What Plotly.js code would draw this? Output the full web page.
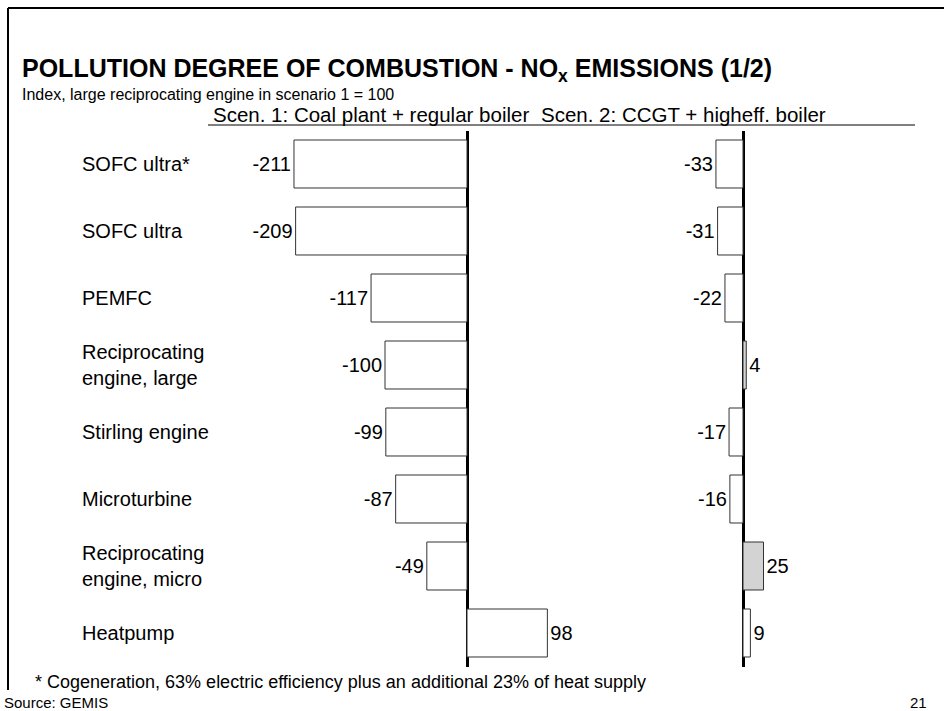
<!DOCTYPE html>
<html>
<head>
<meta charset="utf-8">
<script src="https://cdn.plot.ly/plotly-3.0.1.min.js"></script>
<style>
  html, body { margin: 0; padding: 0; background: #fff; }
  #chart { width: 944px; height: 711px; }
</style>
</head>
<body>
<div id="chart"></div>
<script>
// NOx emission index per technology, two supply scenarios
const categories = [
  "SOFC ultra*",
  "SOFC ultra",
  "PEMFC",
  "Reciprocating<br>engine, large",
  "Stirling engine",
  "Microturbine",
  "Reciprocating<br>engine, micro",
  "Heatpump"
];
const scen1Values = [-211, -209, -117, -100, -99, -87, -49, 98];
const scen2Values = [-33, -31, -22, 4, -17, -16, 25, 9];

const scen1Header = "Scen. 1: Coal plant + regular boiler";
const scen2Header = "Scen. 2: CCGT + higheff. boiler";

// rows drawn with a grey fill in scenario 2
const shadedScen2 = ["Reciprocating<br>engine, large", "Reciprocating<br>engine, micro"];

const W = 944, H = 711;
const px = x => x / W;
const py = y => 1 - y / H;

const FONT = "Arial, 'Liberation Sans', Helvetica, sans-serif";
const ids = categories.map((c, i) => "r" + i);

const barStyle = {
  type: "bar",
  orientation: "h",
  textposition: "outside",
  cliponaxis: false,
  constraintext: "none",
  textfont: { family: FONT, size: 20, color: "#000" },
  hoverinfo: "skip",
  showlegend: false
};

const trace1 = Object.assign({}, barStyle, {
  x: scen1Values,
  y: ids,
  text: scen1Values.map(String),
  xaxis: "x",
  yaxis: "y",
  marker: { color: "#ffffff", line: { color: "#333333", width: 1 } }
});

const trace2 = Object.assign({}, barStyle, {
  x: scen2Values,
  y: ids,
  text: scen2Values.map(String),
  xaxis: "x2",
  yaxis: "y",
  marker: {
    color: categories.map(c => shadedScen2.includes(c) ? "#d3d3d3" : "#ffffff"),
    line: { color: "#333333", width: 1 }
  }
});

// both panels share the same units-per-pixel scale
const unit = 0.82;
const x1Left = 200, x1Right = 620, x1Zero = 467;
const x2Left = 620, x2Right = 944, x2Zero = 743;

const xBase = {
  showgrid: false, showline: false, showticklabels: false, ticks: "",
  zeroline: true, zerolinecolor: "#000", zerolinewidth: 3,
  layer: "above traces", fixedrange: true
};

const annotations = categories.map((c, i) => ({
  xref: "paper", yref: "y",
  x: px(80), y: ids[i],
  xanchor: "left", yanchor: "middle",
  align: "left",
  text: c,
  showarrow: false,
  font: { family: FONT, size: 20, color: "#000" }
}));

annotations.push(
  {
    xref: "paper", yref: "paper", x: px(20), y: py(70),
    xanchor: "left", yanchor: "middle", showarrow: false,
    text: "<b>POLLUTION DEGREE OF COMBUSTION - NO<sub>x</sub> EMISSIONS (1/2)</b>",
    font: { family: FONT, size: 25, color: "#000" }
  },
  {
    xref: "paper", yref: "paper", x: px(20), y: py(94),
    xanchor: "left", yanchor: "middle", showarrow: false,
    text: "Index, large reciprocating engine in scenario 1 = 100",
    font: { family: FONT, size: 16, color: "#000" }
  },
  {
    xref: "paper", yref: "paper", x: px(211), y: py(114),
    xanchor: "left", yanchor: "middle", showarrow: false,
    text: scen1Header,
    font: { family: FONT, size: 20.5, color: "#000" }
  },
  {
    xref: "paper", yref: "paper", x: px(539), y: py(114),
    xanchor: "left", yanchor: "middle", showarrow: false,
    text: scen2Header,
    font: { family: FONT, size: 20.5, color: "#000" }
  },
  {
    xref: "paper", yref: "paper", x: px(33), y: py(682),
    xanchor: "left", yanchor: "middle", showarrow: false,
    text: "* Cogeneration, 63% electric efficiency plus an additional 23% of heat supply",
    font: { family: FONT, size: 18, color: "#000" }
  },
  {
    xref: "paper", yref: "paper", x: px(2), y: py(702),
    xanchor: "left", yanchor: "middle", showarrow: false,
    text: "Source: GEMIS",
    font: { family: FONT, size: 15, color: "#000" }
  },
  {
    xref: "paper", yref: "paper", x: px(929), y: py(702),
    xanchor: "right", yanchor: "middle", showarrow: false,
    text: "21",
    font: { family: FONT, size: 15, color: "#000" }
  }
);

const shapes = [
  // frame: top and left edges
  { type: "line", xref: "paper", yref: "paper", x0: px(8), x1: px(W), y0: py(8), y1: py(8), line: { color: "#000", width: 2 } },
  { type: "line", xref: "paper", yref: "paper", x0: px(8), x1: px(8), y0: py(8), y1: py(690), line: { color: "#000", width: 2 } },
  // rule under the scenario headers
  { type: "line", xref: "paper", yref: "paper", x0: px(208), x1: px(915), y0: py(125), y1: py(125), line: { color: "#000", width: 1 } }
];

const layout = {
  width: W, height: H,
  margin: { l: 0, r: 0, t: 0, b: 0 },
  paper_bgcolor: "#fff", plot_bgcolor: "rgba(0,0,0,0)",
  font: { family: FONT, color: "#000" },
  bargap: 0.284,
  xaxis: Object.assign({}, xBase, {
    domain: [px(x1Left), px(x1Right)],
    range: [-(x1Zero - x1Left) / unit, (x1Right - x1Zero) / unit]
  }),
  xaxis2: Object.assign({}, xBase, {
    domain: [px(x2Left), px(x2Right)],
    range: [-(x2Zero - x2Left) / unit, (x2Right - x2Zero) / unit]
  }),
  yaxis: {
    type: "category",
    categoryorder: "array", categoryarray: ids,
    range: [ids.length - 0.5, -0.5],
    domain: [py(666.5), py(130.5)],
    showgrid: false, showline: false, showticklabels: false, ticks: "",
    zeroline: false, fixedrange: true
  },
  annotations: annotations,
  shapes: shapes
};

Plotly.newPlot("chart", [trace1, trace2], layout, { displayModeBar: false, staticPlot: true });
</script>
</body>
</html>
